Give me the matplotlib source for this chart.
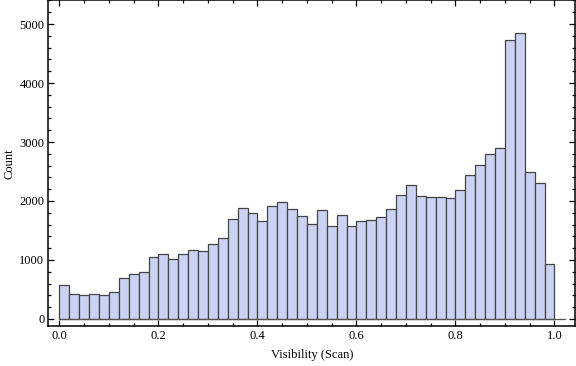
import numpy as np
import matplotlib.pyplot as plt
from matplotlib.ticker import MultipleLocator

# histogram of scan visibility, bin width 0.02
bin_edges = np.round(np.arange(0, 1.0001, 0.02), 2)
counts = [571, 418, 401, 418, 401, 452, 689, 757, 791, 1045,
          1096, 1011, 1096, 1164, 1147, 1266, 1367, 1689, 1876, 1791,
          1655, 1910, 1983, 1870, 1740, 1605, 1842, 1571, 1757, 1571,
          1661, 1678, 1723, 1859, 2096, 2266, 2079, 2062, 2062, 2045,
          2181, 2435, 2605, 2791, 2893, 4723, 4842, 2497, 2311, 927]
xticks = [0.0, 0.2, 0.4, 0.6, 0.8, 1.0]
yticks = [0, 1000, 2000, 3000, 4000, 5000]

plt.rcParams['font.family'] = 'Liberation Serif'
plt.rcParams['font.size'] = 9

fig = plt.figure(figsize=(5.76, 3.66), dpi=100)
ax = fig.add_axes([0.0842, 0.1093, 0.9140, 0.8895])

ax.bar(bin_edges[:-1], counts, width=0.02, align='edge',
       color='#CBD3F4', edgecolor='#444444', linewidth=0.9, zorder=2)
ax.plot([0, 1.021], [0, 0], color='#555555', lw=0.9, zorder=3)

ax.set_xlim(-0.0222, 1.0414)
ax.set_ylim(-119, 5400)
ax.set_xticks(xticks)
ax.set_xticklabels(['%.1f' % t for t in xticks])
ax.set_yticks(yticks)
ax.xaxis.set_minor_locator(MultipleLocator(0.05))
ax.yaxis.set_minor_locator(MultipleLocator(200))
ax.tick_params(which='both', direction='in', top=True, right=True, width=0.9)
ax.tick_params(which='major', length=4, pad=3)
ax.tick_params(which='minor', length=2.5)
for s in ax.spines.values():
    s.set_linewidth(1.1)

ax.set_xlabel('Visibility (Scan)', labelpad=5)
ax.set_ylabel('Count', labelpad=3)

fig.savefig('out.png', dpi=100)
